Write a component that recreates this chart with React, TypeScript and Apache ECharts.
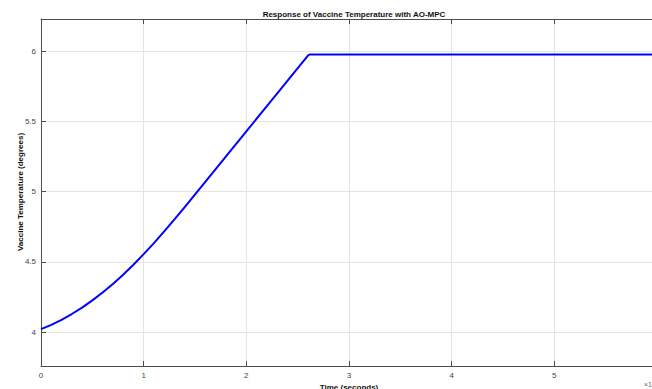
import React, { useEffect, useRef } from "react";
import * as echarts from "echarts";

const titleText = "Response of Vaccine Temperature with AO-MPC";
const xName = "Time (seconds)";
const yName = "Vaccine Temperature (degrees)";
const timeValues = [0, 0.1, 0.2, 0.3, 0.4, 0.5, 0.6, 0.7, 0.8, 0.9, 1.0, 1.1, 1.2, 1.3, 1.4, 1.6, 1.8, 2.0, 2.2, 2.4, 2.6, 2.615, 6.0];
const tempValues = [4.02, 4.051, 4.087, 4.128, 4.174, 4.225, 4.281, 4.342, 4.408, 4.479, 4.554, 4.633, 4.716, 4.802, 4.889, 5.068, 5.248, 5.428, 5.608, 5.788, 5.968, 5.975, 5.975];
const yTicks = [4, 4.5, 5, 5.5, 6];

const FONT = "'Liberation Sans', Arial, sans-serif";
const AXIS_COLOR = "#4d4d4d";
const GRID_COLOR = "#e4e4e4";

export default function App() {
  const ref = useRef<HTMLDivElement>(null);
  useEffect(() => {
    if (!ref.current) return;
    const chart = echarts.init(ref.current, undefined, { renderer: "svg" });
    const data = timeValues.map((t, i) => [t, tempValues[i]]);
    chart.setOption({
      animation: false,
      backgroundColor: "#ffffff",
      title: {
        text: titleText,
        left: 349,
        textAlign: "center",
        top: 5,
        textStyle: { fontFamily: FONT, fontSize: 8, fontWeight: "bold", color: "#111" },
      },
      grid: { left: 41, top: 19, width: 616, height: 347, containLabel: false, outerBoundsMode: "none" },
      xAxis: [
        {
          type: "value",
          min: 0,
          max: 6,
          interval: 1,
          name: xName,
          nameLocation: "middle",
          nameGap: 13,
          nameTextStyle: { fontFamily: FONT, fontSize: 8, fontWeight: "bold", color: "#111" },
          axisLine: { show: true, lineStyle: { color: AXIS_COLOR, width: 1 } },
          axisTick: { show: true, inside: true, length: 5, lineStyle: { color: AXIS_COLOR } },
          axisLabel: { fontFamily: FONT, fontSize: 8, color: "#444", margin: 5, showMaxLabel: false },
          splitLine: { show: true, lineStyle: { color: GRID_COLOR, width: 1 } },
        },
        {
          type: "value",
          position: "top",
          min: 0,
          max: 6,
          interval: 1,
          axisLine: { show: true, onZero: false, lineStyle: { color: AXIS_COLOR, width: 1 } },
          axisTick: { show: true, inside: true, length: 5, lineStyle: { color: AXIS_COLOR } },
          axisLabel: { show: false },
          splitLine: { show: false },
        },
      ],
      yAxis: {
        type: "value",
        min: 3.758,
        max: 6.228,
        axisLine: { show: true, lineStyle: { color: AXIS_COLOR, width: 1 } },
        axisTick: { show: true, inside: true, length: 5, customValues: yTicks, lineStyle: { color: AXIS_COLOR } },
        axisLabel: { fontFamily: FONT, fontSize: 8, color: "#444", margin: 5, customValues: yTicks },
        splitLine: { show: true, lineStyle: { color: GRID_COLOR, width: 1 } },
      },
      graphic: [
        {
          type: "text",
          x: 20,
          y: 192,
          rotation: Math.PI / 2,
          style: {
            text: yName,
            fontFamily: FONT,
            fontSize: 8,
            fontWeight: "bold",
            fill: "#111",
            align: "center",
            verticalAlign: "middle",
          },
        },
        {
          type: "text",
          left: 644,
          top: 381,
          style: { text: "×10", fontFamily: FONT, fontSize: 7, fill: "#666" },
        },
      ],
      series: [
        {
          type: "line",
          data,
          showSymbol: false,
          smooth: false,
          lineStyle: { color: "#0000ff", width: 2 },
          itemStyle: { color: "#0000ff" },
        },
      ],
    });
    return () => chart.dispose();
  }, []);
  return (
    <div style={{ position: "fixed", left: 0, top: 0, width: 652, height: 389, overflow: "hidden", background: "#fff" }}>
      <div ref={ref} style={{ width: 700, height: 389 }} />
    </div>
  );
}
